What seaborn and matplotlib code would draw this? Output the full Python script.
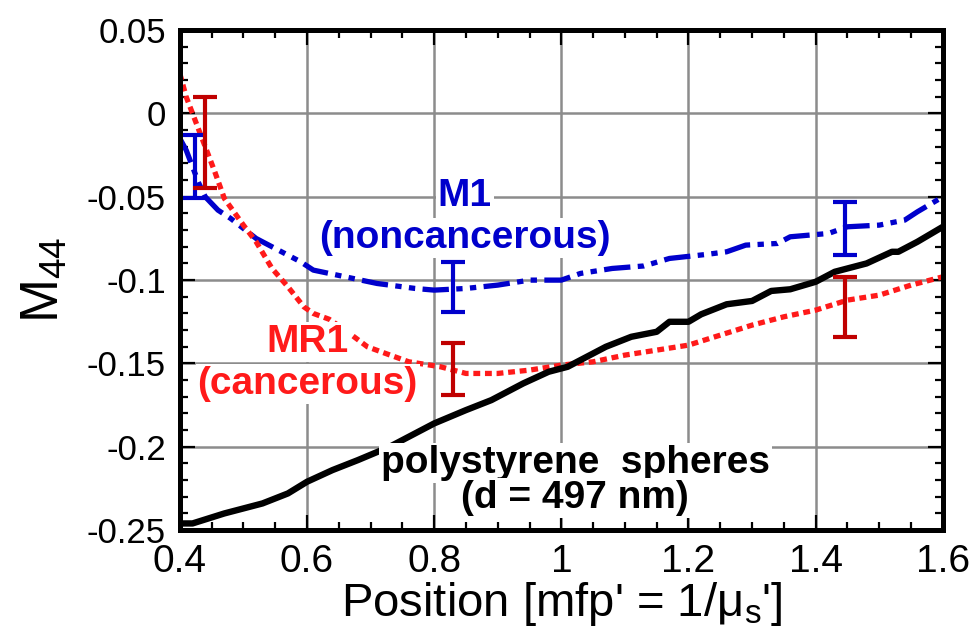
import matplotlib
matplotlib.use("Agg")
import matplotlib.pyplot as plt
import seaborn as sns
from matplotlib.ticker import MultipleLocator

# polystyrene spheres (d = 497 nm)
pos_ps = [0.40, 0.42, 0.47, 0.53, 0.57, 0.60, 0.64, 0.68, 0.73, 0.77, 0.80, 0.85,
          0.89, 0.94, 0.98, 1.01, 1.03, 1.07, 1.11, 1.15, 1.17, 1.20, 1.22, 1.26,
          1.30, 1.33, 1.36, 1.40, 1.43, 1.48, 1.52, 1.53, 1.56, 1.60]
m44_ps = [-0.246, -0.246, -0.240, -0.234, -0.228, -0.221, -0.214, -0.208, -0.200,
          -0.192, -0.186, -0.178, -0.172, -0.162, -0.155, -0.152, -0.148, -0.140,
          -0.134, -0.131, -0.125, -0.125, -0.1205, -0.1145, -0.1125, -0.1065,
          -0.1055, -0.101, -0.095, -0.090, -0.083, -0.083, -0.077, -0.068]

# M1 (noncancerous)
pos_m1 = [0.40, 0.41, 0.42, 0.43, 0.44, 0.46, 0.48, 0.52, 0.56, 0.59, 0.61, 0.66,
          0.71, 0.77, 0.80, 0.85, 0.90, 0.95, 1.00, 1.03, 1.08, 1.13, 1.17, 1.23,
          1.26, 1.29, 1.34, 1.36, 1.42, 1.45, 1.50, 1.54, 1.56, 1.60]
m44_m1 = [-0.015, -0.022, -0.032, -0.042, -0.050, -0.058, -0.063, -0.075, -0.083,
          -0.089, -0.094, -0.098, -0.102, -0.105, -0.106, -0.105, -0.103, -0.100,
          -0.100, -0.096, -0.093, -0.0915, -0.087, -0.0845, -0.083, -0.079, -0.078,
          -0.074, -0.072, -0.068, -0.067, -0.064, -0.059, -0.050]

# MR1 (cancerous)
pos_mr1 = [0.40, 0.41, 0.42, 0.43, 0.445, 0.455, 0.47, 0.50, 0.52, 0.545, 0.57,
           0.595, 0.61, 0.635, 0.66, 0.695, 0.72, 0.76, 0.81, 0.85, 0.90, 0.95,
           1.00, 1.05, 1.10, 1.15, 1.20, 1.25, 1.30, 1.35, 1.40, 1.45, 1.50, 1.55, 1.60]
m44_mr1 = [0.024, 0.010, 0.000, -0.010, -0.025, -0.035, -0.051, -0.067, -0.077,
           -0.093, -0.104, -0.116, -0.120, -0.1235, -0.130, -0.140, -0.1435, -0.149,
           -0.152, -0.156, -0.156, -0.154, -0.151, -0.149, -0.145, -0.142, -0.139,
           -0.133, -0.127, -0.122, -0.118, -0.112, -0.109, -0.103, -0.098]

# error bars
err_pos_m1 = [0.424, 0.83, 1.446]
err_val_m1 = [-0.032, -0.104, -0.069]
err_size_m1 = [0.019, 0.015, 0.016]
err_pos_mr1 = [0.439, 0.83, 1.446]
err_val_mr1 = [-0.0175, -0.1535, -0.116]
err_size_mr1 = [0.0275, 0.0155, 0.018]

sns.set_theme(style="ticks")
plt.rcParams['font.family'] = ['Liberation Sans', 'DejaVu Sans']
plt.rcParams['mathtext.default'] = 'regular'
plt.rcParams['text.color'] = 'black'
plt.rcParams['axes.labelcolor'] = 'black'
plt.rcParams['xtick.color'] = 'black'
plt.rcParams['ytick.color'] = 'black'

BLUE = '#0000cc'
RED = '#ff1a1a'
DARKRED = '#c00000'

fig = plt.figure(figsize=(9.72, 6.41), dpi=100)
ax = fig.add_axes([0.185, 0.173, 0.785, 0.780])

sns.lineplot(x=pos_m1, y=m44_m1, ax=ax, color=BLUE, lw=3.8,
             linestyle=(0, (5, 1.4, 1.2, 1.4, 1.2, 1.4)), sort=False)
sns.lineplot(x=pos_mr1, y=m44_mr1, ax=ax, color=RED, lw=3.8,
             linestyle=(0, (1.3, 0.9)), sort=False)
sns.lineplot(x=pos_ps, y=m44_ps, ax=ax, color='black', lw=4.6, sort=False)

ax.errorbar(err_pos_m1, err_val_m1, yerr=err_size_m1, fmt='none', ecolor=BLUE,
            elinewidth=3, capsize=8.5, capthick=3, zorder=5)
ax.errorbar(err_pos_mr1, err_val_mr1, yerr=err_size_mr1, fmt='none', ecolor=DARKRED,
            elinewidth=3, capsize=8.5, capthick=3, zorder=5)

ax.set_xlim(0.4, 1.6)
ax.set_ylim(-0.25, 0.05)
ax.xaxis.set_minor_locator(MultipleLocator(0.05))
ax.yaxis.set_minor_locator(MultipleLocator(0.01))
ax.set_xticks([0.4, 0.6, 0.8, 1.0, 1.2, 1.4, 1.6])
ax.set_xticklabels(['0.4', '0.6', '0.8', '1', '1.2', '1.4', '1.6'])
ax.set_yticks([0.05, 0, -0.05, -0.1, -0.15, -0.2, -0.25])
ax.set_yticklabels(['0.05', '0', '-0.05', '-0.1', '-0.15', '-0.2', '-0.25'])

ax.grid(True, which='major', color='#8c8c8c', lw=1.8)
for s in ax.spines.values():
    s.set_linewidth(3.6)
    s.set_color('black')
ax.tick_params(which='both', direction='in', top=True, right=True, color='black')
ax.tick_params(which='major', length=11, width=1.6)
ax.tick_params(which='minor', length=6, width=1.6)
ax.tick_params(axis='y', which='major', labelsize=25, pad=10)
ax.tick_params(axis='x', which='major', labelsize=28, pad=10)

ax.set_xlabel("Position [mfp' = 1/μ$_{\\mathregular{s}}$']", fontsize=34)
ax.xaxis.set_label_coords(0.5, -0.1)
ax.set_ylabel('M$_{\\mathregular{44}}$', fontsize=38)
ax.yaxis.set_label_coords(-0.145, 0.5)

box = dict(facecolor='white', edgecolor='none', pad=1.5)
ax.text(0.848, -0.0495, 'M1', color=BLUE, fontsize=28, fontweight='bold',
        ha='center', va='center', bbox=box, zorder=6)
ax.text(0.848, -0.0745, '(noncancerous)', color=BLUE, fontsize=28, fontweight='bold',
        ha='center', va='center', bbox=box, zorder=6)
ax.text(0.601, -0.137, 'MR1', color=RED, fontsize=28, fontweight='bold',
        ha='center', va='center', bbox=box, zorder=6)
ax.text(0.601, -0.1625, '(cancerous)', color=RED, fontsize=28, fontweight='bold',
        ha='center', va='center', bbox=box, zorder=6)
ax.text(1.022, -0.2095, 'polystyrene  spheres', color='black', fontsize=28,
        fontweight='bold', ha='center', va='center', bbox=box, zorder=6)
ax.text(1.022, -0.2305, '(d = 497 nm)', color='black', fontsize=28,
        fontweight='bold', ha='center', va='center', bbox=box, zorder=6)

fig.savefig('out.png', dpi=100)
